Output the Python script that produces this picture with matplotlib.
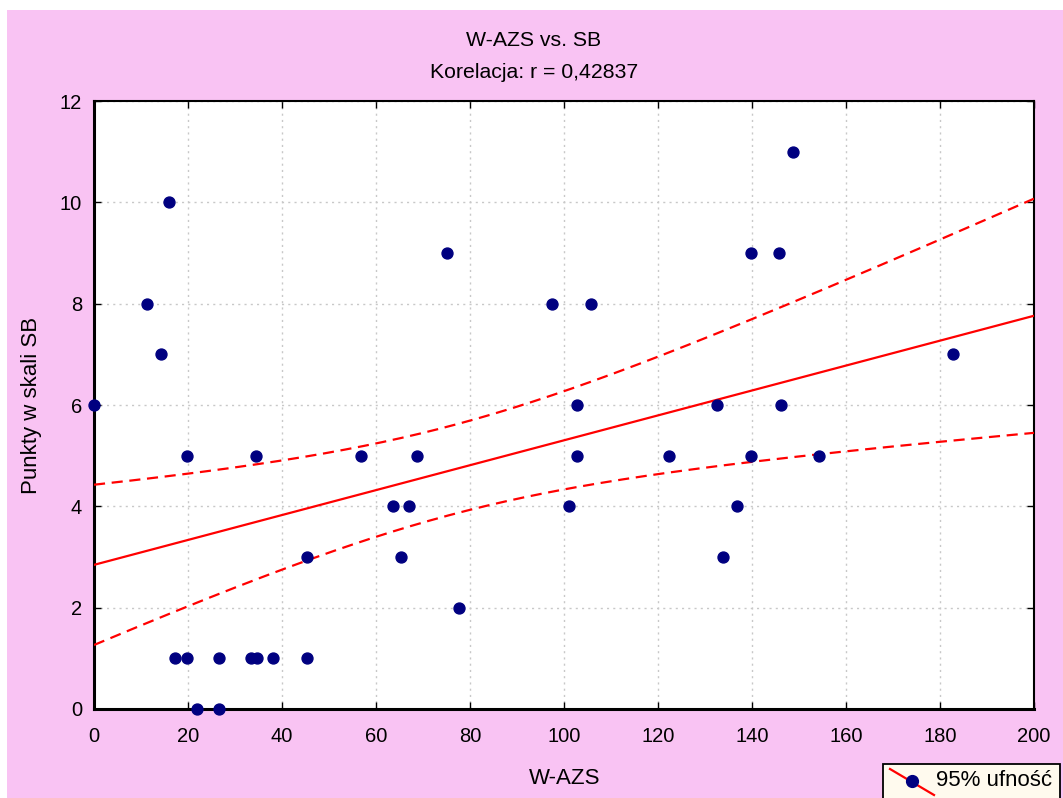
import numpy as np
import matplotlib.pyplot as plt
from matplotlib.lines import Line2D
from matplotlib.patches import Rectangle

plt.rcParams['font.family'] = ['Liberation Sans', 'DejaVu Sans']

# W-AZS and SB scores for each person
w_azs = [0, 11.3, 14.3, 16, 17.2, 19.8, 19.8, 21.9, 26.6, 26.6,
         33.4, 34.7, 34.5, 38.1, 45.3, 45.3, 56.8, 63.6, 65.3, 67,
         68.7, 75.1, 77.7, 97.4, 101, 102.8, 102.8, 105.7, 122.3, 132.6,
         133.8, 136.8, 139.8, 139.8, 145.7, 146.2, 148.7, 154.3, 182.8]
sb = [6, 8, 7, 10, 1, 1, 5, 0, 0, 1,
      1, 1, 5, 1, 1, 3, 5, 4, 3, 4,
      5, 9, 2, 8, 4, 6, 5, 8, 5, 6,
      3, 4, 9, 5, 9, 6, 11, 5, 7]
x_ticks = [0, 20, 40, 60, 80, 100, 120, 140, 160, 180, 200]
y_ticks = [0, 2, 4, 6, 8, 10, 12]
r_label = '0,42837'
t_crit = 2.026  # t(0.975, df=37)

x = np.array(w_azs)
y = np.array(sb)
n = len(x)
b, a = np.polyfit(x, y, 1)
resid = y - (a + b * x)
s = np.sqrt(np.sum(resid ** 2) / (n - 2))
xs = np.linspace(0, 200, 200)
fit = a + b * xs
se = s * np.sqrt(1 / n + (xs - x.mean()) ** 2 / np.sum((x - x.mean()) ** 2))

W, H = 1063, 798
pink = '#F9C3F3'
navy = '#000080'


def fx(px):
    return px / W


def fy(py):
    return 1 - py / H


fig = plt.figure(figsize=(W / 100, H / 100), dpi=100, facecolor=pink)
# white margins along the top and left edges
fig.patches.append(Rectangle((0, fy(10)), 1, 10 / H, transform=fig.transFigure,
                             facecolor='white', edgecolor='none', zorder=0))
fig.patches.append(Rectangle((0, 0), 7 / W, 1, transform=fig.transFigure,
                             facecolor='white', edgecolor='none', zorder=0))

ax = fig.add_axes([fx(94), fy(709), 940 / W, 608 / H])
ax.set_facecolor('white')

ax.plot(xs, fit, color='red', lw=1.6, zorder=3)
ax.plot(xs, fit + t_crit * se, color='red', lw=1.6, ls=(0, (5, 3)), zorder=3)
ax.plot(xs, fit - t_crit * se, color='red', lw=1.6, ls=(0, (5, 3)), zorder=3)
ax.scatter(x, y, s=62, color=navy, zorder=4, clip_on=False)

ax.set_xlim(0, 200)
ax.set_ylim(0, 12)
ax.set_xticks(x_ticks)
ax.set_yticks(y_ticks)
ax.grid(True, color='#c8c8c8', ls=(0, (1.5, 3)), lw=1)
ax.tick_params(direction='in', length=5, width=1, labelsize=14.5, top=True, right=True)
ax.tick_params(axis='x', pad=13)
ax.tick_params(axis='y', pad=8.5)
for sp in ax.spines.values():
    sp.set_linewidth(1.5)
ax.spines['left'].set_linewidth(2.2)
ax.spines['bottom'].set_linewidth(2.2)

fig.text(fx(565), fy(779), 'W-AZS', ha='center', va='center', fontsize=16)
fig.text(fx(32), fy(405), 'Punkty w skali SB', ha='center', va='center',
         rotation=90, fontsize=16)
fig.text(fx(534), fy(40), 'W-AZS vs. SB', ha='center', va='center', fontsize=15.3)
fig.text(fx(534), fy(72), 'Korelacja: r = ' + r_label, ha='center', va='center',
         fontsize=15.3)

# legend box in the lower right corner
fig.patches.append(Rectangle((fx(883), fy(800)), 177 / W, 36 / H, transform=fig.transFigure,
                             facecolor='#FFFAEE', edgecolor='black', lw=1.3, zorder=5))
fig.lines.append(Line2D([fx(890), fx(934)], [fy(769), fy(795)], transform=fig.transFigure,
                        color='red', lw=1.6, zorder=6))
fig.lines.append(Line2D([fx(912)], [fy(781)], transform=fig.transFigure, marker='o',
                        markersize=8.5, color=navy, ls='none', zorder=7))
fig.text(fx(936), fy(781), '95% ufność', ha='left', va='center', fontsize=16, zorder=8)

fig.savefig('out.png', dpi=100, facecolor=pink)
